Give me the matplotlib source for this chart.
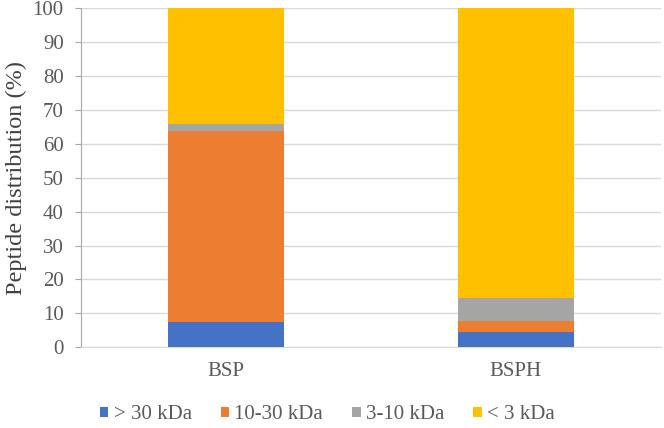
import matplotlib
matplotlib.use('Agg')
import matplotlib.pyplot as plt
import numpy as np

plt.rcParams['font.family'] = ['Liberation Serif', 'DejaVu Serif']

# ── Data ────────────────────────────────────────────────
samples = ['BSP', 'BSPH']
fractions = ['> 30 kDa', '10-30 kDa', '3-10 kDa', '< 3 kDa']
gt30 = [7.5, 4.5]
f10_30 = [56.3, 3.2]
f3_10 = [2.0, 6.7]
lt3 = [34.2, 85.6]
colors = ['#4472C4', '#ED7D31', '#A5A5A5', '#FFC000']

series = [gt30, f10_30, f3_10, lt3]

fig = plt.figure(figsize=(6.64, 4.28), dpi=100)
ax = fig.add_axes([0.1215, 0.1886, 0.874, 0.792])

x = np.arange(len(samples))
bottom = np.zeros(len(samples))
for vals, lab, c in zip(series, fractions, colors):
    ax.bar(x, vals, 0.4, bottom=bottom, color=c, label=lab, zorder=3)
    bottom += np.array(vals)

ax.set_xlim(-0.5, 1.5)
ax.set_ylim(0, 100)
ax.set_yticks(range(0, 101, 10))
ax.set_xticks(x)
ax.set_xticklabels(samples)
ax.yaxis.grid(True, color='#d9d9d9', linewidth=1, zorder=0)
for s in ['top', 'right']:
    ax.spines[s].set_visible(False)
ax.spines['left'].set_color('#a6a6a6')
ax.spines['bottom'].set_color('#d9d9d9')
ax.tick_params(axis='y', colors='#595959', labelsize=15, length=4.2,
               color='#a6a6a6', pad=8)
ax.tick_params(axis='x', colors='#595959', labelsize=15, length=0, pad=10.5)
ax.set_ylabel('Peptide distribution (%)', fontsize=17.5, color='#404040', labelpad=4)

fig.legend(loc='lower center', ncol=4, frameon=False, fontsize=15,
           handlelength=0.4, handleheight=0.4, handletextpad=0.25,
           columnspacing=1.4, bbox_to_anchor=(0.493, -0.035), labelcolor='#595959')

fig.savefig('out.png', dpi=100)
